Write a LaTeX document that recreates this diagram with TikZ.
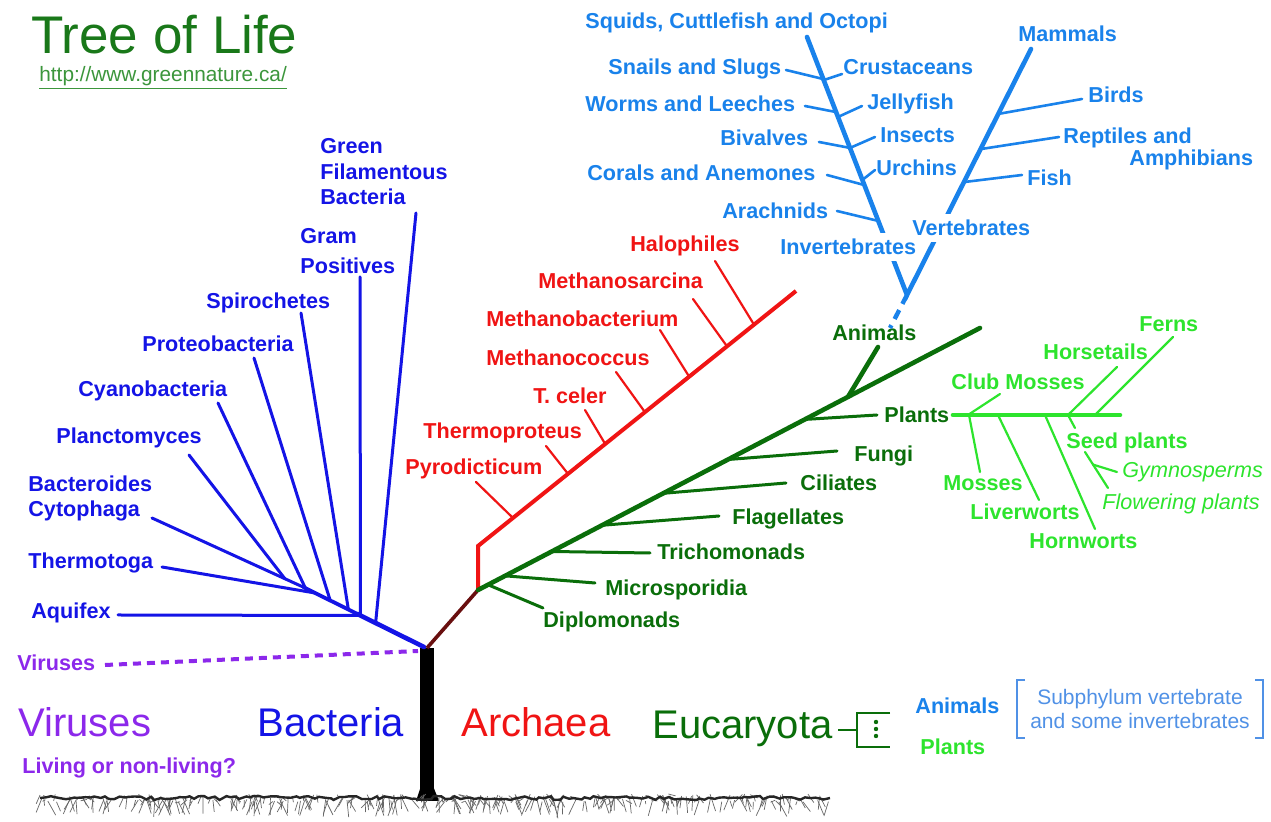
\documentclass[tikz,border=0pt]{standalone}
\usepackage{fontspec}
\setmainfont{Liberation Sans}
\usetikzlibrary{calc,decorations.pathmorphing}
\definecolor{bactBlue}{RGB}{20,20,230}
\definecolor{archRed}{RGB}{240,20,20}
\definecolor{stemBrown}{RGB}{105,15,15}
\definecolor{eukGreen}{RGB}{10,110,10}
\definecolor{plantGreen}{RGB}{45,228,45}
\definecolor{animBlue}{RGB}{25,130,235}
\definecolor{virPurple}{RGB}{140,40,235}
\definecolor{titleGreen}{RGB}{25,120,25}
\definecolor{urlGreen}{RGB}{60,150,60}
\definecolor{noteBlue}{RGB}{80,145,230}
\newcommand{\labfont}{\fontsize{10.8}{12.8}\selectfont\bfseries}
\newcommand{\bigfont}{\fontsize{20}{24}\selectfont}
\newcommand{\notefont}{\fontsize{10.5}{12}\selectfont}
\newcommand{\branch}[3]{\coordinate (#1j) at #2; \coordinate (#1t) at #3; \draw (#1j) -- (#1t);}
\tikzset{
  lab/.style={font=\labfont, inner sep=0pt, text height=7.8pt, text depth=0pt, anchor=west},
  biglab/.style={font=\bigfont, inner sep=0pt, text height=14.4pt, text depth=0pt, anchor=west},
  multilab/.style={font=\labfont, inner sep=0pt, align=left, anchor=north west},
  twig/.style={line width=1.5pt, line cap=round},
  thintwig/.style={line width=1.1pt, line cap=round},
  stem/.style={line width=2.3pt, line cap=round},
}
\begin{document}
\begin{tikzpicture}[x=0.5pt, y=-0.5pt]
\useasboundingbox[fill=white] (0,0) rectangle (1271,822);

\node[font=\fontsize{26.5}{30}\selectfont, text=titleGreen, inner sep=0pt, anchor=west, text height=19pt, text depth=0pt] (title) at (31,35) {Tree of Life};
\node[font=\fontsize{10.4}{12}\selectfont, text=urlGreen, inner sep=0pt, anchor=west] (url) at (39,78) {\underline{http://www.greennature.ca/}};

% trunk and roots
\fill[black] (420,648) rectangle (434,800);
\fill[black] (416,801) -- (421,786) -- (433,786) -- (439,801) -- cycle;
\pgfmathsetseed{7}
\foreach \k in {1,...,320}{
  \pgfmathsetmacro{\rx}{40+790*rnd}
  \pgfmathsetmacro{\ry}{794+8*rnd}
  \draw[black!60, line width=0.35pt] (\rx,\ry) -- ++(-8+16*rnd, 1+16*rnd);
}
\draw[black!85, line width=1.2pt, decorate, decoration={random steps, segment length=2.5pt, amplitude=1pt}] (40,798) -- (830,798);

\coordinate (trunkTop) at (427,648);

% viruses
\node[lab, text=virPurple] (virLab) at (17,663) {Viruses};
\coordinate (virStart) at (105,665);
\coordinate (virEnd) at (418,651);
\draw[virPurple, line width=2pt, dash pattern=on 4pt off 3pt] (virStart) -- (virEnd);

% bacteria
\coordinate (bRoot) at (424,647);
\coordinate (bEnd) at (303,587);
\coordinate (bMid) at ($(bRoot)!0.55!(bEnd)$);
\draw[bactBlue, stem] (bRoot) -- (bMid);
\draw[bactBlue, line width=1.9pt] (bMid) -- (bEnd);
\begin{scope}[bactBlue, twig]
\branch{aqu}{($(bRoot)!0.525!(bEnd)$)}{(118,615)}
\branch{the}{($(bRoot)!0.9!(bEnd)$)}{(162,567)}
\branch{bac}{(bEnd)}{(152,518)}
\branch{pla}{($(bEnd)!0.12!(152,518)$)}{(189,455)}
\branch{cya}{($(bRoot)!0.98!(bEnd)$)}{(218,403)}
\branch{pro}{($(bRoot)!0.775!(bEnd)$)}{(254,358)}
\branch{spi}{($(bRoot)!0.625!(bEnd)$)}{(301,313)}
\branch{gram}{($(bRoot)!0.525!(bEnd)$)}{(360,277)}
\branch{gfb}{($(bRoot)!0.4!(bEnd)$)}{(416,213)}
\end{scope}
\node[multilab, text=bactBlue] (gfbLab) at (320,138) {Green\\Filamentous\\Bacteria};
\node[multilab, text=bactBlue] (gramLab) at (300,228) {Gram\\[2.2pt]Positives};
\node[lab, text=bactBlue] (spiLab) at (206,301) {Spirochetes};
\node[lab, text=bactBlue] (proLab) at (142,344) {Proteobacteria};
\node[lab, text=bactBlue] (cyaLab) at (78,389) {Cyanobacteria};
\node[lab, text=bactBlue] (plaLab) at (56,436) {Planctomyces};
\node[multilab, text=bactBlue] (bacLab) at (28,475) {Bacteroides\\Cytophaga};
\node[lab, text=bactBlue] (theLab) at (28,561) {Thermotoga};
\node[lab, text=bactBlue] (aquLab) at (31,611) {Aquifex};

% archaea
\coordinate (aeRoot) at (478,590);
\coordinate (arcBase) at (478,546);
\coordinate (arcTip) at (796,291);
\draw[stemBrown, line width=1.8pt] (trunkTop) -- (aeRoot);
\draw[archRed, line width=2pt] (aeRoot) -- (arcBase) -- (arcTip);
\begin{scope}[archRed, thintwig]
\branch{pyr}{($(arcBase)!0.11!(arcTip)$)}{(476,482)}
\branch{tpr}{($(arcBase)!0.283!(arcTip)$)}{(546,446)}
\branch{tce}{($(arcBase)!0.40!(arcTip)$)}{(585,410)}
\branch{mco}{($(arcBase)!0.525!(arcTip)$)}{(616,372)}
\branch{mba}{($(arcBase)!0.664!(arcTip)$)}{(660,330)}
\branch{msa}{($(arcBase)!0.783!(arcTip)$)}{(693,299)}
\branch{hal}{($(arcBase)!0.868!(arcTip)$)}{(715,261)}
\end{scope}
\node[lab, text=archRed] (halLab) at (630,244) {Halophiles};
\node[lab, text=archRed] (msaLab) at (538,281) {Methanosarcina};
\node[lab, text=archRed] (mbaLab) at (486,319) {Methanobacterium};
\node[lab, text=archRed] (mcoLab) at (486,358) {Methanococcus};
\node[lab, text=archRed] (tceLab) at (533,396) {T. celer};
\node[lab, text=archRed] (tprLab) at (423,431) {Thermoproteus};
\node[lab, text=archRed] (pyrLab) at (405,467) {Pyrodicticum};

% eucaryota
\coordinate (eTip) at (980,328);
\draw[eukGreen, stem] (aeRoot) -- (eTip);
\begin{scope}[eukGreen, twig]
\branch{dip}{($(aeRoot)!0.02!(eTip)$)}{(543,608)}
\branch{mic}{($(aeRoot)!0.054!(eTip)$)}{(595,583)}
\branch{tri}{($(aeRoot)!0.147!(eTip)$)}{(650,553)}
\branch{fla}{($(aeRoot)!0.247!(eTip)$)}{(719,516)}
\branch{cil}{($(aeRoot)!0.369!(eTip)$)}{(786,483)}
\branch{fun}{($(aeRoot)!0.498!(eTip)$)}{(837,451)}
\branch{plt}{($(aeRoot)!0.651!(eTip)$)}{(877,415)}
\end{scope}
\begin{scope}[eukGreen, stem]
\branch{ani}{($(aeRoot)!0.737!(eTip)$)}{(878,347)}
\end{scope}
\node[lab, text=eukGreen] (dipLab) at (543,620) {Diplomonads};
\node[lab, text=eukGreen] (micLab) at (605,588) {Microsporidia};
\node[lab, text=eukGreen] (triLab) at (657,552) {Trichomonads};
\node[lab, text=eukGreen] (flaLab) at (732,517) {Flagellates};
\node[lab, text=eukGreen] (cilLab) at (800,483) {Ciliates};
\node[lab, text=eukGreen] (funLab) at (854,454) {Fungi};
\node[lab, text=eukGreen] (pltLab) at (884,415) {Plants};
\node[lab, text=eukGreen] (aniLab) at (832,333) {Animals};

% plants
\coordinate (pRoot) at (953,415);
\coordinate (pTip) at (1120,415);
\draw[plantGreen, stem] (pRoot) -- (pTip);
\begin{scope}[plantGreen, thintwig]
\branch{clm}{(968,415)}{(1000,394)}
\branch{hor}{(1068,415)}{(1117,367)}
\branch{fer}{(1095,415)}{(1173,337)}
\branch{mos}{(969,415)}{(980,472)}
\branch{liv}{(998,415)}{(1039,500)}
\branch{hwt}{(1045,415)}{(1095,529)}
\branch{sep}{(1068,415)}{(1075,428)}
\branch{flo}{(1085,452)}{(1108,488)}
\branch{gym}{($(floj)!0.35!(flot)$)}{(1117,472)}
\end{scope}
\node[lab, text=plantGreen] (ferLab) at (1139,324) {Ferns};
\node[lab, text=plantGreen] (horLab) at (1043,352) {Horsetails};
\node[lab, text=plantGreen] (clmLab) at (951,382) {Club Mosses};
\node[lab, text=plantGreen] (sepLab) at (1066,441) {Seed plants};
\node[lab, text=plantGreen, font=\fontsize{10.8}{12.8}\selectfont\itshape] (gymLab) at (1122,470) {Gymnosperms};
\node[lab, text=plantGreen, font=\fontsize{10.8}{12.8}\selectfont\itshape] (floLab) at (1102,502) {Flowering plants};
\node[lab, text=plantGreen] (mosLab) at (943,483) {Mosses};
\node[lab, text=plantGreen] (livLab) at (970,512) {Liverworts};
\node[lab, text=plantGreen] (hwtLab) at (1029,541) {Hornworts};

% animals
\coordinate (vBase) at (907,295);
\coordinate (invTip) at (807,37);
\coordinate (vertTip) at (1031,49);
\coordinate (aniLink) at (890,328);
\draw[animBlue, stem] (invTip) -- (vBase) -- (vertTip);
\draw[animBlue, line width=2.2pt, dash pattern=on 5pt off 3.5pt] (vBase) -- (aniLink);
\begin{scope}[animBlue, line width=1.3pt, line cap=round]
\branch{sna}{($(vBase)!0.837!(invTip)$)}{(786,70)}
\branch{cru}{($(vBase)!0.833!(invTip)$)}{(842,74)}
\branch{wor}{($(vBase)!0.709!(invTip)$)}{(805,106)}
\branch{jel}{($(vBase)!0.69!(invTip)$)}{(862,106)}
\branch{biv}{($(vBase)!0.57!(invTip)$)}{(819,142)}
\branch{ins}{($(vBase)!0.57!(invTip)$)}{(875,137)}
\branch{cor}{($(vBase)!0.426!(invTip)$)}{(827,175)}
\branch{urc}{($(vBase)!0.446!(invTip)$)}{(875,170)}
\branch{ara}{($(vBase)!0.287!(invTip)$)}{(837,211)}
\branch{bir}{($(vBase)!0.736!(vertTip)$)}{(1082,99)}
\branch{rep}{($(vBase)!0.593!(vertTip)$)}{(1059,137)}
\branch{fis}{($(vBase)!0.459!(vertTip)$)}{(1022,175)}
\end{scope}
\node[lab, text=animBlue] (squLab) at (585,21) {Squids, Cuttlefish and Octopi};
\node[lab, text=animBlue] (snaLab) at (608,67) {Snails and Slugs};
\node[lab, text=animBlue] (cruLab) at (843,67) {Crustaceans};
\node[lab, text=animBlue] (worLab) at (585,104) {Worms and Leeches};
\node[lab, text=animBlue] (jelLab) at (867,102) {Jellyfish};
\node[lab, text=animBlue] (bivLab) at (720,138) {Bivalves};
\node[lab, text=animBlue] (insLab) at (880,135) {Insects};
\node[lab, text=animBlue] (corLab) at (587,173) {Corals and Anemones};
\node[lab, text=animBlue] (urcLab) at (876,168) {Urchins};
\node[lab, text=animBlue] (araLab) at (722,211) {Arachnids};
\node[lab, text=animBlue, fill=white, inner ysep=3pt] (invLab) at (780,247) {Invertebrates};
\node[lab, text=animBlue] (mamLab) at (1018,34) {Mammals};
\node[lab, text=animBlue] (birLab) at (1088,95) {Birds};
\node[multilab, text=animBlue] (repLab) at (1063,127) {Reptiles and\\[-1.8pt]\hspace*{33pt}Amphibians};
\node[lab, text=animBlue] (fisLab) at (1027,178) {Fish};
\node[lab, text=animBlue, fill=white, inner ysep=3pt] (verLab) at (912,228) {Vertebrates};

% legend
\node[biglab, text=virPurple] (virBig) at (18,722) {Viruses};
\node[lab, text=virPurple] (livLabel) at (22,766) {Living or non-living?};
\node[biglab, text=bactBlue] (bactBig) at (257,722) {Bacteria};
\node[biglab, text=archRed] (archBig) at (461,722) {Archaea};
\node[biglab, text=eukGreen] (eukBig) at (652,724) {Eucaryota};
\coordinate (brkL) at (838,730);
\coordinate (brkM) at (857,730);
\coordinate (brkTL) at (857,713);
\coordinate (brkBL) at (857,747);
\coordinate (brkTop) at (890,713);
\coordinate (brkBot) at (890,747);
\draw[eukGreen, line width=1pt] (brkL) -- (brkM);
\draw[eukGreen, line width=1pt] (brkTop) -- (brkTL) -- (brkBL) -- (brkBot);
\foreach \dy in {722,729,736} \fill[eukGreen] (876,\dy) circle (1.1pt);
\node[lab, text=animBlue] (aniLeg) at (915,706) {Animals};
\node[lab, text=plantGreen] (pltLeg) at (920,747) {Plants};
\draw[noteBlue, line width=0.9pt] (1025,680) -- (1017,680) -- (1017,738) -- (1025,738);
\draw[noteBlue, line width=0.9pt] (1255,680) -- (1263,680) -- (1263,738) -- (1255,738);
\node[font=\notefont, text=noteBlue, align=center, inner sep=0pt] (note) at (1140,709) {Subphylum vertebrate\\and some invertebrates};
\end{tikzpicture}
\end{document}
